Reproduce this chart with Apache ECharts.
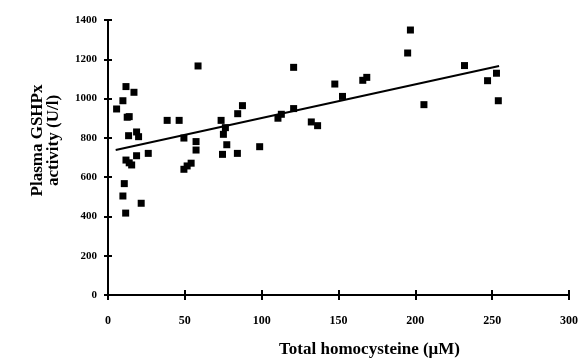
<!DOCTYPE html>
<html>
<head>
<meta charset="utf-8">
<title>GSHPx vs homocysteine</title>
<script src="https://cdn.jsdelivr.net/npm/echarts@6/dist/echarts.min.js"></script>
<style>
  html, body { margin: 0; padding: 0; background: #fff; }
  #main { width: 581px; height: 364px; }
</style>
</head>
<body>
<div id="main"></div>
<script>
// total homocysteine (uM)
var hcy = [5.6, 9.7, 11.7, 16.9, 12.5, 13.8, 38.5, 46.3, 73.6, 84.4, 87.5, 76.4, 75.1, 13.4, 18.6, 19.9,
  49.4, 57.3, 77.3, 98.7, 57.3, 74.5, 84.2, 11.7, 15.4, 18.6, 26.2, 13.8, 49.4, 51.5, 54.1, 10.6, 9.7,
  21.6, 11.5, 196.8, 195, 120.8, 58.6, 147.6, 165.8, 168.4, 152.6, 205.6, 120.8, 112.8, 110.6, 132.3,
  136.4, 232, 252.8, 247, 254];
// plasma GSHPx activity (U/l)
var gshpx = [947, 989, 1061, 1032, 905, 908, 889, 889, 889, 923, 964, 852, 818, 811, 830, 806,
  799, 781, 765, 755, 738, 716, 721, 687, 662, 709, 721, 673, 640, 657, 671, 567, 504,
  467, 417, 1349, 1232, 1159, 1166, 1074, 1093, 1108, 1011, 969, 949, 920, 900, 881,
  862, 1168, 1129, 1091, 989];
// regression line ends
var trendX = [5, 254.5];
var trendY = [738, 1166];

var points = hcy.map(function (x, i) { return [x, gshpx[i]]; });
var trend = trendX.map(function (x, i) { return [x, trendY[i]]; });

var serif = 'Liberation Serif';
var chart = echarts.init(document.getElementById('main'));
chart.setOption({
  animation: false,
  grid: { left: 108, right: 11, top: 20, bottom: 69 },
  xAxis: [{
    type: 'value', min: 0, max: 300, interval: 50,
    name: 'Total homocysteine (\u03bcM)',
    nameLocation: 'middle', nameGap: 46,
    nameTextStyle: { fontFamily: serif, fontWeight: 'bold', fontSize: 17, color: '#000', padding: [0, 0, 0, 62] },
    axisLine: { lineStyle: { color: '#000', width: 2 } },
    axisTick: { length: 5, lineStyle: { color: '#000', width: 2 } },
    axisLabel: { margin: 20, fontFamily: serif, fontWeight: 'bold', fontSize: 12, color: '#000' },
    splitLine: { show: false }
  }, {
    // inner half of the crossing ticks
    type: 'value', min: 0, max: 300, interval: 50, position: 'bottom', offset: 0,
    axisLine: { show: false },
    axisTick: { inside: true, length: 5, lineStyle: { color: '#000', width: 2 } },
    axisLabel: { show: false },
    splitLine: { show: false }
  }],
  yAxis: [{
    type: 'value', min: 0, max: 1400, interval: 200,
    name: 'Plasma GSHPx\nactivity (U/l)',
    nameLocation: 'middle', nameGap: 46,
    nameTextStyle: { fontFamily: serif, fontWeight: 'bold', fontSize: 17, lineHeight: 16, color: '#000', padding: [0, 0, 0, 34] },
    axisLine: { lineStyle: { color: '#000', width: 2 } },
    axisTick: { length: 4, lineStyle: { color: '#000', width: 2 } },
    axisLabel: {
      margin: 11, fontFamily: serif, fontWeight: 'bold', fontSize: 11, color: '#000',
      formatter: function (v) { return String(v); }
    },
    splitLine: { show: false }
  }, {
    type: 'value', min: 0, max: 1400, interval: 200, position: 'left', offset: 0,
    axisLine: { show: false },
    axisTick: { inside: true, length: 4, lineStyle: { color: '#000', width: 2 } },
    axisLabel: { show: false },
    splitLine: { show: false }
  }],
  series: [{
    type: 'scatter',
    data: points,
    symbol: 'rect',
    symbolSize: 7,
    itemStyle: { color: '#000', opacity: 1 }
  }, {
    type: 'line',
    data: trend,
    showSymbol: false,
    lineStyle: { color: '#000', width: 2 }
  }]
});
</script>
</body>
</html>
